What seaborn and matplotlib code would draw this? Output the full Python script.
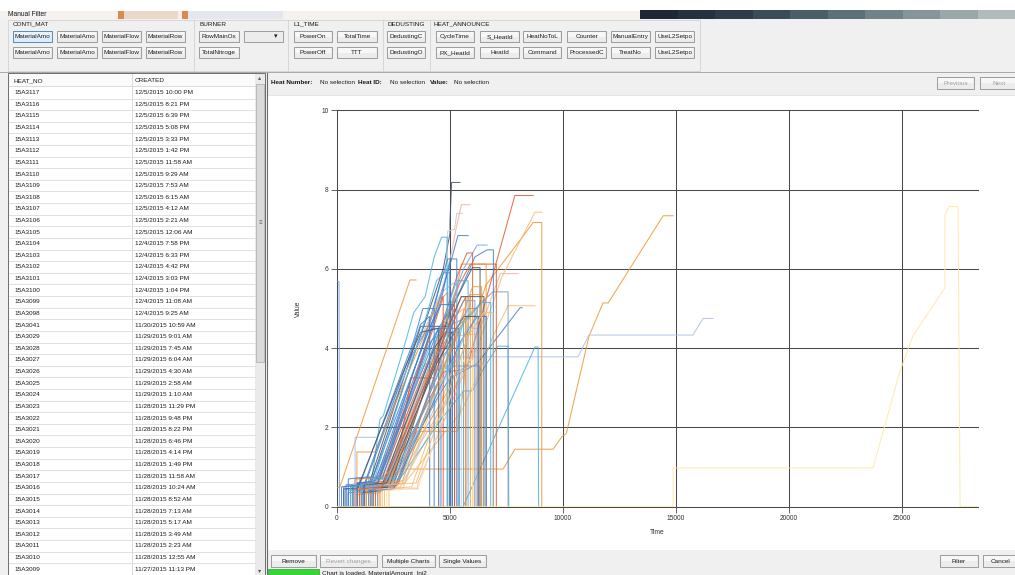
import matplotlib
matplotlib.use("Agg")
import matplotlib.pyplot as plt
import seaborn as sns
import pandas as pd
from matplotlib.patches import Rectangle
from matplotlib.lines import Line2D

# ---------------- data ----------------
heat_no = ['15A3117','15A3116','15A3115','15A3114','15A3113','15A3112','15A3111','15A3110',
           '15A3109','15A3108','15A3107','15A3106','15A3105','15A3104','15A3103','15A3102',
           '15A3101','15A3100','15A3099','15A3098','15A3041','15A3029','15A3028','15A3027',
           '15A3026','15A3025','15A3024','15A3023','15A3022','15A3021','15A3020','15A3019',
           '15A3018','15A3017','15A3016','15A3015','15A3014','15A3013','15A3012','15A3011',
           '15A3010','15A3009']
created = ['12/5/2015 10:00 PM','12/5/2015 8:21 PM','12/5/2015 6:39 PM','12/5/2015 5:08 PM',
           '12/5/2015 3:33 PM','12/5/2015 1:42 PM','12/5/2015 11:58 AM','12/5/2015 9:29 AM',
           '12/5/2015 7:53 AM','12/5/2015 6:15 AM','12/5/2015 4:12 AM','12/5/2015 2:21 AM',
           '12/5/2015 12:06 AM','12/4/2015 7:58 PM','12/4/2015 6:33 PM','12/4/2015 4:42 PM',
           '12/4/2015 3:03 PM','12/4/2015 1:04 PM','12/4/2015 11:08 AM','12/4/2015 9:25 AM',
           '11/30/2015 10:59 AM','11/29/2015 9:01 AM','11/29/2015 7:45 AM','11/29/2015 6:04 AM',
           '11/29/2015 4:30 AM','11/29/2015 2:58 AM','11/29/2015 1:10 AM','11/28/2015 11:29 PM',
           '11/28/2015 9:48 PM','11/28/2015 8:22 PM','11/28/2015 6:46 PM','11/28/2015 4:14 PM',
           '11/28/2015 1:49 PM','11/28/2015 11:58 AM','11/28/2015 10:24 AM','11/28/2015 8:52 AM',
           '11/28/2015 7:13 AM','11/28/2015 5:17 AM','11/28/2015 3:49 AM','11/28/2015 2:23 AM',
           '11/28/2015 12:55 AM','11/27/2015 11:13 PM']

# (time, value) breakpoints, one list per heat
s_long_orange = [(0,0),(1800,0),(1800,0.5),(2200,0.6),(2600,0.95),(7350,0.95),(7870,1.45),(9560,1.45),
                 (9956,1.77),(10150,1.85),(11150,4.3),(11770,5.14),(12000,5.14),(14430,7.34),(14870,7.34)]
s_long_blue = [(0,0),(900,0),(900,0.4),(2000,0.45),(5150,3.78),(10660,3.78),(11150,4.33),(15750,4.33),
               (16200,4.75),(16640,4.75)]
s_long_yellow = [(0,0),(14870,0),(14870,0.98),(23720,0.98),(24900,3.4),(25500,4.33),(26900,5.52),
                 (26900,7.36),(27080,7.57),(27480,7.57),(27570,0),(28300,0)]
s_or717 = [(0,0),(1200,0),(1200,0.5),(2400,0.55),(5000,3.0),(6600,5.6),(7400,6.2),(8200,6.8),
           (8680,7.17),(9060,7.17),(9060,0)]
s_lor743 = [(0,0),(1500,0),(1500,0.45),(2800,0.5),(6200,4.0),(7300,5.8),(8100,6.7),(8760,7.43),(9070,7.43)]
s_red785 = [(0,0),(1600,0),(1600,0.55),(2200,0.6),(4700,3.4),(5500,3.45),(5800,3.6),(7870,7.85),(8680,7.85)]
s_sl818 = [(0,0),(700,0),(700,0.55),(1500,0.6),(4700,6.0),(5000,6.9),(5000,7.2),(5070,8.18),(5440,8.18)]
s_pk762 = [(0,0),(1100,0),(1100,0.5),(2000,0.55),(4600,5.3),(5100,6.5),(5300,7.1),(5510,7.62),(5880,7.62)]
s_gr740 = [(0,0),(900,0),(900,0.4),(2300,0.7),(4800,5.8),(4900,6.95),(5200,7.0),(5300,7.4),(5550,7.4)]
s_cy680 = [(0,0),(500,0),(500,0.4),(1500,0.5),(1900,2.2),(2050,2.3),(2900,3.9),(3400,4.9),(3900,5.3),
           (4300,6.3),(4630,6.8),(4870,6.8),(4870,0)]
s_or572 = [(0,0.48),(130,0.5),(3230,5.72),(3500,5.72)]
s_bl568 = [(0,5.68),(90,5.68),(110,0),(1000,0)]
s_cy403 = [(0,0),(5580,0),(8540,3.75),(8760,4.03),(8900,4.03),(8920,0)]
s_cy405 = [(0,0),(1300,0),(1300,0.5),(2600,0.55),(4600,2.2),(5600,2.92),(6000,2.92),(6500,3.5),
           (7120,4.05),(7570,4.05),(7600,0)]
s_bl502 = [(0,0),(800,0),(800,0.45),(2400,0.6),(4500,2.8),(5000,3.25),(6190,3.6),(8100,5.02),(8190,5.02)]
s_lor507 = [(0,0),(2000,0),(2000,0.5),(3000,0.6),(5500,2.4),(6300,3.4),(6900,4.3),(7570,5.07),(8760,5.07)]
s_pk588 = [(0,0),(1700,0),(1700,0.45),(2600,0.6),(5200,3.0),(6400,4.6),(7230,5.88),(8010,5.88)]
s_gb542 = [(0,0),(1000,0),(1000,0.5),(2000,0.55),(4800,4.2),(5600,4.7),(6300,5.1),(6900,5.42),
           (7570,5.42),(7570,0)]
s_bl648 = [(0,0),(600,0),(600,0.5),(1800,0.6),(4500,4.5),(5400,5.4),(6100,6.3),(6640,6.48),(6920,6.48),(6920,0)]
s_red612 = [(0,0),(1400,0),(1400,0.6),(2400,0.65),(4900,4.8),(5400,5.6),(5900,6.12),(7050,6.12),(7050,0)]
s_or612 = [(0,0),(1000,0),(1000,0.35),(2000,0.4),(4700,4.4),(5300,5.5),(5500,6.12),(6600,6.12),(6600,0)]
s_bl684 = [(0,0),(400,0),(400,0.55),(1500,0.6),(4300,4.8),(5000,6.1),(5350,6.84),(5800,6.84)]
s_bl660 = [(0,0),(1200,0),(1200,0.45),(2200,0.5),(4900,4.9),(5600,6.0),(6200,6.6),(6640,6.6)]
s_red640 = [(0,0),(800,0),(800,0.7),(2000,0.75),(4600,4.5),(5300,5.8),(5750,6.4),(6000,6.4),(6000,0)]
s_sl603 = [(0,0),(1500,0),(1500,0.5),(2500,0.55),(5000,4.9),(5600,5.6),(5990,6.03),(6330,6.03),(6330,0)]
s_bl625 = [(0,0),(700,0),(700,0.4),(1700,0.45),(3900,4.3),(4500,5.5),(4900,6.25),(5300,6.25),(5300,0)]
g01 = [(0,0),(500,0),(500,0.35),(1600,0.4),(4200,4.5),(4600,4.5),(4600,0)]
g02 = [(0,0),(900,0),(900,0.5),(2100,0.55),(4400,4.2),(5000,4.5),(5000,0)]
g03 = [(0,0),(600,0),(600,0.55),(1400,0.55),(3560,4.3),(3700,4.55),(4700,4.55),(5000,4.55),(5000,0)]
g04 = [(0,0),(1100,0),(1100,0.6),(2300,0.7),(4800,4.9),(5200,5.0),(5200,0)]
g05 = [(0,0),(700,0),(700,0.5),(1800,0.55),(4200,4.2),(4700,4.4),(5400,4.4),(5400,0)]
g06 = [(0,0),(1300,0),(1300,0.45),(2500,0.5),(3270,3.25),(4300,3.25),(4700,4.7),(5200,5.1),(5200,0)]
g07 = [(0,0),(1500,0),(1500,0.5),(2600,0.5),(5100,4.6),(5800,4.8),(6600,4.8),(6600,0)]
g08 = [(0,0),(1900,0),(1900,0.55),(3000,0.6),(5300,4.3),(5800,4.35),(6200,4.35),(6200,0)]
g09 = [(0,0),(400,0),(400,0.45),(1200,0.5),(3300,3.8),(4100,4.6),(4700,5.9),(5000,5.9),(5000,0)]
g10 = [(0,0),(800,0),(800,0.3),(1900,0.35),(3560,1.9),(5330,1.9),(5600,3.0),(5900,5.35),(6400,5.35),(6400,0)]
g11 = [(0,0),(1000,0),(1000,0.45),(2000,0.5),(4700,4.7),(5300,5.7),(5800,5.7),(5800,0)]
g12 = [(0,0),(1100,0),(1100,0.35),(1900,0.4),(4300,4.0),(4800,4.4),(5100,4.4),(5100,0)]
g13 = [(0,0),(600,0),(600,0.55),(1700,0.6),(2500,1.0),(5000,4.7),(5600,5.0),(5600,0)]
g14 = [(0,0),(1700,0),(1700,0.5),(2700,0.55),(5100,4.6),(5700,5.3),(5700,0)]
g15 = [(0,0),(800,0),(800,1.75),(1770,1.75),(4600,5.4),(5300,5.7),(5300,0)]
g16 = [(0,0),(880,0),(880,1.38),(1680,1.38),(4500,5.2),(4900,5.4),(4900,0)]
g17 = [(0,0),(300,0),(300,0.5),(1200,0.55),(3700,4.6),(4100,4.8),(4100,0)]
g18 = [(0,0),(1800,0),(1800,0.4),(2900,0.45),(5200,3.8),(5500,3.8),(5500,0)]
g19 = [(0,0),(500,0),(500,0.7),(1300,0.75),(2000,0.7),(4600,5.2),(5000,6.2),(5000,0)]
g20 = [(0,0),(2100,0),(2100,0.45),(3300,0.5),(5500,4.1),(6000,5.0),(6000,0)]
g21 = [(0,0),(700,0),(700,0.4),(1500,0.45),(3900,3.6),(4300,3.6),(5000,4.0),(5300,4.0),(5300,0)]
g22 = [(0,0),(1200,0),(1200,0.5),(2300,0.5),(4600,3.5),(5100,3.5),(5600,4.7),(5600,0)]
g23 = [(0,0),(1000,0),(1000,0.7),(2200,0.75),(5000,4.6),(5500,5.3),(5900,5.3),(5900,0)]
g24 = [(0,0),(1600,0),(1600,0.45),(2300,0.5),(4900,4.5),(5500,5.3),(6500,5.3),(6500,0)]
g25 = [(0,0),(900,0),(900,0.6),(1800,0.6),(4200,4.4),(4700,5.3),(4700,0)]
g26 = [(0,0),(1400,0),(1400,0.4),(2500,0.45),(4800,3.3),(5500,4.2),(6200,4.8),(6600,4.8),(6600,0)]
g27 = [(0,0),(800,0),(800,0.45),(3580,0.45),(3580,0.6),(5500,3.2),(6100,4.0),(6100,0)]
g28 = [(0,0),(200,0),(200,0.5),(1000,0.55),(3400,4.2),(3800,5.0),(4300,5.0),(4300,0)]
g29 = [(0,0),(1300,0),(1300,0.5),(2400,0.55),(5300,3.9),(5800,4.5),(6300,4.5),(6300,0)]
g30 = [(0,0),(2200,0),(2200,0.4),(3600,0.5),(5600,3.7),(6000,3.7),(6000,0)]
g31 = [(0,0),(1600,0),(1600,0.7),(2800,0.7),(5400,4.5),(6400,5.15),(6800,5.15),(6800,0)]
g32 = [(0,0),(300,0),(300,0.45),(900,0.45),(3000,3.5),(3700,4.4),(4500,4.5),(4500,0)]
g33 = [(0,0),(1300,0),(1300,0.55),(2300,0.6),(4300,3.5),(4700,3.5),(5700,4.8),(5700,0)]
g34 = [(0,0),(1800,0),(1800,0.5),(2600,0.55),(4500,3.55),(5800,3.55),(6300,3.55),(6300,0)]
g35 = [(0,0),(900,0),(900,0.6),(1800,0.6),(4000,4.0),(4500,4.5),(5400,4.5),(5400,0)]
h01 = [(0,0),(1100,0),(1100,0.5),(2100,0.55),(4700,4.2),(5600,5.2),(6100,5.2),(6100,0)]
h02 = [(0,0),(1900,0),(1900,0.6),(2900,0.65),(5400,4.6),(6000,5.55),(6400,5.55),(6400,0)]
h03 = [(0,0),(1200,0),(1200,0.55),(2200,0.6),(4400,3.6),(5000,4.2),(5600,4.8),(6250,4.8),(6250,0)]
h04 = [(0,0),(1000,0),(1000,0.45),(2000,0.5),(4500,3.9),(5200,5.0),(5200,0)]
h05 = [(0,0),(600,0),(600,0.5),(1600,0.6),(4000,4.9),(4400,5.7),(4900,6.0),(4900,0)]
h06 = [(0,0),(2300,0),(2300,0.55),(3500,0.6),(5800,4.3),(6500,4.9),(6900,4.9),(6900,0)]
h07 = [(0,0),(1400,0),(1400,0.75),(2600,0.75),(5200,4.4),(5800,5.0),(6200,5.0),(6200,0)]
h08 = [(0,0),(900,0),(900,0.6),(1700,0.65),(4000,4.4),(4600,5.1),(5100,5.1),(5100,0)]

series = [s_long_orange, s_long_blue, s_or717, s_lor743, s_red785, s_sl818, s_pk762, s_gr740,
          s_cy680, s_or572, s_bl568, s_cy403, s_cy405, s_bl502, s_lor507, s_pk588, s_gb542,
          s_bl648, s_red612, s_or612, s_bl684, s_bl660, s_red640, s_sl603, s_bl625,
          g01, g02, g03, g04, g05, g06, g07, g08, g09, g10, g11, g12, g13, g14, g15, g16, g17,
          g18, g19, g20, g21, g22, g23, g24, g25, g26, g27, g28, g29, g30, g31, g32, g33, g34, g35,
          h01, h02, h03, h04, h05, h06, h07, h08,
          s_long_yellow]

BLUE, LBLUE, CYAN, SLATE, GREYB = '#3f7fcf', '#6ea3e3', '#45b3e6', '#44546a', '#8496b0'
ORANGE, LORANGE, RED, PINK, LGREY, PERI, YEL = '#ed9636', '#f6bd6f', '#e2582f', '#f2b09c', '#c9c9c9', '#a9bfe3', '#ffe6a0'
series_colors = [ORANGE, PERI, ORANGE, LORANGE, RED, SLATE, PINK, LGREY,
                 CYAN, ORANGE, LBLUE, CYAN, CYAN, BLUE, LORANGE, PINK, GREYB,
                 BLUE, RED, ORANGE, BLUE, LBLUE, RED, SLATE, BLUE,
                 BLUE, ORANGE, SLATE, PINK, CYAN, RED, GREYB, LORANGE, BLUE, ORANGE, CYAN, SLATE,
                 PINK, RED, PERI, ORANGE, BLUE, LGREY, BLUE, LORANGE, GREYB, CYAN, ORANGE, SLATE,
                 RED, BLUE, PINK, BLUE, PERI, YEL, CYAN, SLATE, ORANGE, GREYB, BLUE,
                 LBLUE, ORANGE, SLATE, RED, CYAN, LORANGE, GREYB, BLUE,
                 YEL]

# ---------------- figure / helpers ----------------
W, H = 1015, 575
FONT = ['Liberation Sans Narrow', 'Liberation Sans', 'DejaVu Sans']
plt.rcParams['font.family'] = FONT
fig = plt.figure(figsize=(W / 100, H / 100), dpi=100, facecolor='#f0f0f0')


def fx(x):
    return x / W


def fy(y):
    return 1 - y / H


def rect(x0, y0, x1, y1, fc='none', ec='none', lw=0.6, z=1):
    fig.add_artist(Rectangle((fx(x0), fy(y1)), (x1 - x0) / W, (y1 - y0) / H,
                             transform=fig.transFigure, facecolor=fc, edgecolor=ec,
                             linewidth=lw, zorder=z))


def line(xs, ys, color, lw=0.6, z=1):
    fig.add_artist(Line2D([fx(v) for v in xs], [fy(v) for v in ys], transform=fig.transFigure,
                          color=color, linewidth=lw, zorder=z))


def txt(x, y, s, size=4.6, ha='left', va='center', color='#1a1a1a', weight='normal', z=2):
    fig.text(fx(x), fy(y), s, fontsize=size, ha=ha, va=va, color=color, weight=weight,
             family=FONT, zorder=z)


def button(x0, y0, x1, y1, label, state='normal'):
    ec = '#3c7fb1' if state == 'focus' else '#8e8f8f'
    fc = '#dcecfc' if state == 'focus' else '#ececec'
    rect(x0, y0, x1, y1, fc=fc, ec=ec, lw=0.6)
    rect(x0 + 1, y0 + 1, x1 - 1, (y0 + y1) / 2, fc='#f7f7f7' if state != 'focus' else '#e9f3fd', z=1.1)
    col = '#a0a0a0' if state == 'disabled' else '#1a1a1a'
    txt((x0 + x1) / 2, (y0 + y1) / 2 + 0.3, label, ha='center', color=col, z=2)


# ---------------- top strip ----------------
rect(0, 0, W, 11, fc='#ffffff', z=-3)
rect(0, 11, 640, 20, fc='#f4f1ee', z=-3)
rect(118, 11, 178, 19, fc='#ead8c8', z=-2.5)
rect(118, 11, 124, 19, fc='#d98a4c', z=-2.4)
rect(182, 11, 283, 19, fc='#e4e8ee', z=-2.4)
rect(182, 11, 188, 19, fc='#d98a4c', z=-2.3)
steps = ['#1d2736', '#24313f', '#2d3c4a', '#3a4c58', '#4a5e68', '#5c7078', '#708389',
         '#85969a', '#9aa8aa', '#b0bbbb']
for i, c in enumerate(steps):
    rect(640 + i * 37.5, 10, 640 + (i + 1) * 37.5 + 0.5, 19, fc=c, z=-2.4)
txt(8, 14, 'Manual Filter', size=4.8)

# group boxes
rect(8, 20, 700, 71, fc='#f0f0f0', ec='#d3d3d3', lw=0.6, z=-1)
for xs in [194, 288, 383, 430]:
    line([xs, xs], [20, 71], '#d3d3d3')
for x, lab in [(13, 'CONTI_MAT'), (200, 'BURNER'), (294, 'L1_TIME'), (387, 'DEDUSTING'),
               (433, 'HEAT_ANNOUNCE')]:
    txt(x, 24, lab, size=4.6)

row1 = [(13, 52, 'MaterialAmo', 'focus'), (57, 97, 'MaterialAmo', 'normal'),
        (102, 141, 'MaterialFlow', 'normal'), (146, 185, 'MaterialRow', 'normal'),
        (199, 239, 'RowMainOx', 'normal'), (294, 332, 'PowerOn', 'normal'),
        (337, 377, 'TotalTime', 'normal'), (387, 425, 'DedustingC', 'normal'),
        (436, 474, 'CycleTime', 'normal'), (480, 519, 'S_HeatId', 'normal'),
        (523, 561, 'HeatNoToL', 'normal'), (567, 606, 'Counter', 'normal'),
        (611, 650, 'ManualEntry', 'normal'), (655, 694, 'UseL2Setpo', 'normal')]
row2 = [(13, 52, 'MaterialAmo'), (57, 97, 'MaterialAmo'), (102, 141, 'MaterialFlow'),
        (146, 185, 'MaterialRow'), (199, 239, 'TotalNitroge'), (294, 332, 'PowerOff'),
        (337, 377, 'TTT'), (387, 425, 'DedustingO'), (436, 474, 'PX_HeatId'),
        (480, 519, 'HeatId'), (523, 561, 'Command'), (567, 606, 'ProcessedC'),
        (611, 650, 'TreatNo'), (655, 694, 'UseL2Setpo')]
for x0, x1, lab, st in row1:
    button(x0, 31, x1, 42, lab, st)
for x0, x1, lab in row2:
    button(x0, 47, x1, 58, lab)
# dropdown
rect(244, 31, 283, 42, fc='#ececec', ec='#8e8f8f', lw=0.6)
txt(276, 36.7, '\u25BE', size=5, ha='center')

# ---------------- left table ----------------
line([0, W], [72, 72], '#a8a8a8', lw=0.7)
rect(8, 73, 265, 575, fc='#ffffff', ec='#6d6d6d', lw=0.7, z=-1)
rect(9, 74, 255, 86, fc='#fbfbfb', z=0.5)
line([9, 255], [86.5, 86.5], '#d5d5d5')
line([132, 132], [74, 575], '#d5d5d5')
txt(14, 80.5, 'HEAT_NO')
txt(135, 80.5, 'CREATED')
row_h = 11.62
for i, (hn, cr) in enumerate(zip(heat_no, created)):
    yc = 92.7 + i * row_h
    txt(14, yc, hn)
    txt(135, yc, cr)
    line([9, 255], [yc + row_h / 2, yc + row_h / 2], '#dcdcdc', lw=0.6)
# scrollbar
rect(255, 74, 265, 575, fc='#eaeaea', z=0.6)
rect(256, 84, 264, 362, fc='#dadada', ec='#a9a9a9', lw=0.5, z=0.7)
txt(260, 223, '\u2261', size=4.5, ha='center', color='#666666')
txt(260, 78, '\u25B4', size=4.5, ha='center', color='#555555')
txt(260, 571, '\u25BE', size=4.5, ha='center', color='#555555')

# ---------------- chart panel ----------------
rect(267, 73, W, 575, fc='#f0f0f0', z=-2)
line([267, 267], [73, 575], '#6d6d6d', lw=0.8)
rect(268, 95, W, 550, fc='#ffffff', z=-1.5)
line([268, W], [95, 95], '#e0e0e0')
txt(271, 83, 'Heat Number:', weight='bold')
txt(320, 83, 'No selection')
txt(358, 83, 'Heat ID:', weight='bold')
txt(390, 83, 'No selection')
txt(430, 83, 'Value:', weight='bold')
txt(454, 83, 'No selection')
button(937, 77, 974, 89, 'Previous', 'disabled')
button(980, 77, 1018, 89, 'Next', 'disabled')

button(271, 555, 316, 567, 'Remove')
button(320, 555, 377, 567, 'Revert changes', 'disabled')
button(382, 555, 435, 567, 'Multiple Charts')
button(439, 555, 486, 567, 'Single Values')
button(940, 555, 978, 567, 'Filter')
button(983, 555, 1018, 567, 'Cancel')
rect(268, 569, 319, 577, fc='#37d33a', ec='#2aa52c', lw=0.5)
txt(322, 574, 'Chart is loaded. MaterialAmount_Inj2', size=4.6)

# ---------------- chart ----------------
X0, X1, Y0, Y1 = 337, 978, 110.3, 506.7
ax = fig.add_axes([fx(X0), fy(Y1), (X1 - X0) / W, (Y1 - Y0) / H])
ax.patch.set_visible(False)

rows = []
ids = []
for i, s in enumerate(series):
    sid = f'heat{i:02d}'
    ids.append(sid)
    for t, v in s:
        rows.append((sid, t, v))
df = pd.DataFrame(rows, columns=['Heat', 'Time', 'Value'])
palette = dict(zip(ids, series_colors))
sns.lineplot(data=df, x='Time', y='Value', hue='Heat', palette=palette, estimator=None,
             sort=False, legend=False, linewidth=0.75, alpha=0.85, ax=ax, zorder=3)

xmax = 28363
ax.set_xlim(0, xmax)
ax.set_ylim(0, 10)
ax.set_xticks([0, 5000, 10000, 15000, 20000, 25000])
ax.set_yticks([0, 2, 4, 6, 8, 10])
ax.grid(False)
GC = '#4a4a4a'
for xv in [5000, 10000, 15000, 20000, 25000]:
    ax.axvline(xv, color=GC, lw=0.75, zorder=1)
for yv in [0, 2, 4, 6, 8, 10]:
    ax.axhline(yv, color=GC, lw=0.75, zorder=1, clip_on=False)
for sp in ['top', 'right', 'bottom']:
    ax.spines[sp].set_visible(False)
ax.spines['left'].set_color(GC)
ax.spines['left'].set_linewidth(0.75)
ax.tick_params(axis='both', direction='out', length=4, width=0.6, color=GC,
               labelsize=4.8, labelcolor='#333333', pad=2)
ax.set_xlabel('Time', fontsize=4.8, color='#333333')
ax.set_ylabel('Value', fontsize=4.8, color='#333333')
ax.xaxis.set_label_coords((657 - X0) / (X1 - X0), -(529 - Y1) / (Y1 - Y0))
ax.yaxis.set_label_coords(-(X0 - 302) / (X1 - X0), 0.5)

fig.savefig('out.png', dpi=100, facecolor=fig.get_facecolor())
